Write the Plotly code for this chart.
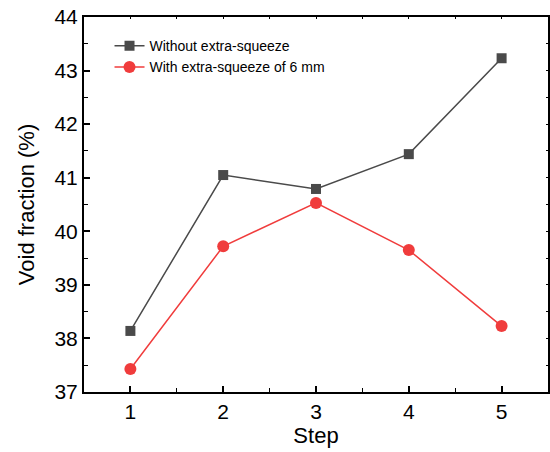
import plotly.graph_objects as go

steps = [1, 2, 3, 4, 5]
without_squeeze = [38.14, 41.05, 40.79, 41.44, 43.23]
with_squeeze = [37.43, 39.72, 40.53, 39.65, 38.23]
name_without = "Without extra-squeeze"
name_with = "With extra-squeeze of 6 mm"
x_ticks = [1, 2, 3, 4, 5]
y_ticks = [37, 38, 39, 40, 41, 42, 43, 44]

FONT = "Liberation Sans, Arial, sans-serif"
GRAY = "#4a4a4a"
RED = "#f03c3c"

fig = go.Figure()
fig.add_trace(go.Scatter(
    x=steps, y=without_squeeze, name=name_without, mode="lines+markers",
    line=dict(color=GRAY, width=1.5),
    marker=dict(symbol="square", size=10, color=GRAY),
))
fig.add_trace(go.Scatter(
    x=steps, y=with_squeeze, name=name_with, mode="lines+markers",
    line=dict(color=RED, width=1.5),
    marker=dict(symbol="circle", size=12, color=RED),
))
# helper trace to activate the mirrored top/right axes
fig.add_trace(go.Scatter(
    x=steps, y=without_squeeze, xaxis="x2", yaxis="y2", mode="lines",
    opacity=0, showlegend=False, hoverinfo="skip",
))

axis_common = dict(
    showgrid=False, zeroline=False, showline=True, linecolor="black",
    ticks="inside", tickcolor="black", automargin=False,
)

fig.update_layout(
    width=550, height=452,
    margin=dict(l=84, r=2, t=17, b=60),
    paper_bgcolor="white", plot_bgcolor="white",
    font=dict(family=FONT, color="black"),
    showlegend=True,
    legend=dict(
        x=0.055, y=0.965, xanchor="left", yanchor="top",
        bgcolor="rgba(0,0,0,0)", borderwidth=0,
        font=dict(family=FONT, size=14, color="black"),
        tracegroupgap=0,
    ),
    xaxis=dict(
        **axis_common, range=[0.5, 5.5], tickvals=x_ticks,
        linewidth=2, ticklen=6, tickwidth=1.5,
        minor=dict(dtick=0.5, ticks="inside", ticklen=4, tickwidth=1.2, tickcolor="black"),
        tickfont=dict(size=21, family=FONT),
        title=dict(text="Step", font=dict(size=22, family=FONT), standoff=4),
    ),
    yaxis=dict(
        **axis_common, range=[37, 44], tickvals=y_ticks,
        linewidth=2, ticklen=6, tickwidth=1.5,
        minor=dict(dtick=0.5, ticks="inside", ticklen=4, tickwidth=1.2, tickcolor="black"),
        tickfont=dict(size=21, family=FONT),
        title=dict(text="Void fraction (%)", font=dict(size=22, family=FONT), standoff=14),
    ),
    xaxis2=dict(
        **axis_common, overlaying="x", side="top", matches="x", range=[0.5, 5.5],
        tickvals=x_ticks, showticklabels=False, linewidth=1.5, ticklen=2, tickwidth=1,
        minor=dict(dtick=0.5, ticks="inside", ticklen=2, tickwidth=1, tickcolor="black"),
    ),
    yaxis2=dict(
        **axis_common, overlaying="y", side="right", matches="y", range=[37, 44],
        tickvals=y_ticks, showticklabels=False, linewidth=1.5, ticklen=2, tickwidth=1,
        minor=dict(dtick=0.5, ticks="inside", ticklen=2, tickwidth=1, tickcolor="black"),
    ),
)

fig.write_html(
    "out.html",
    config={"displayModeBar": False},
    post_script=(
        "document.body.style.margin='0';"
        "document.body.style.overflow='hidden';"
        "document.documentElement.style.overflow='hidden';"
    ),
)
